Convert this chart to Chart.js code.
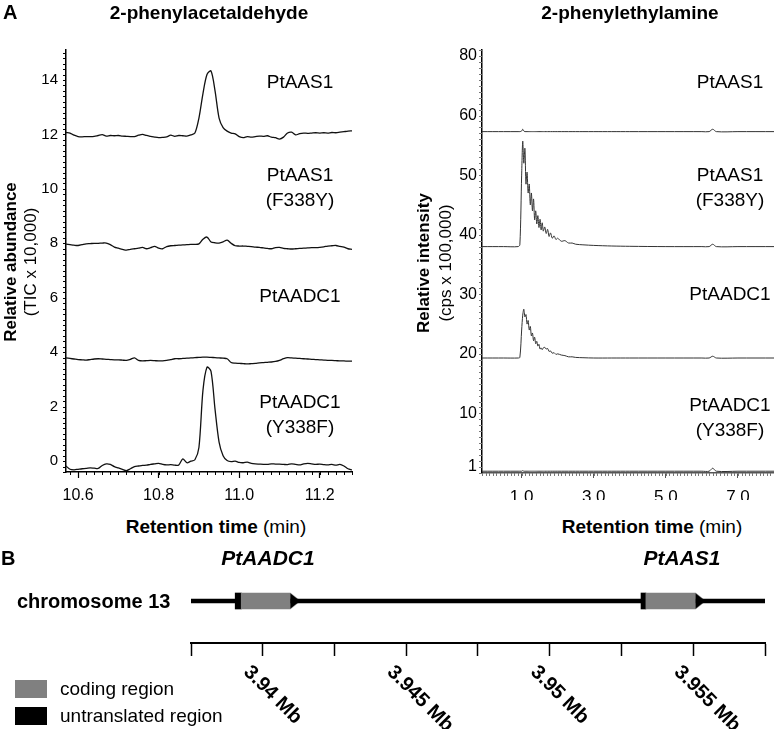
<!DOCTYPE html>
<html>
<head>
<meta charset="utf-8">
<script src="https://cdn.jsdelivr.net/npm/chart.js@4.4.1/dist/chart.umd.min.js"></script>
<style>
  body { margin: 0; width: 774px; height: 729px; position: relative; overflow: hidden; background: #fff;
         font-family: "Liberation Sans", Arial, sans-serif; color: #000; }
  canvas { position: absolute; }
  .c { position: absolute; white-space: nowrap; transform: translate(-50%, -50%); text-align: center; }
  .l { position: absolute; white-space: nowrap; transform: translateY(-50%); }
  .v { position: absolute; white-space: nowrap; transform: translate(-50%, -50%) rotate(-90deg); }
  .trace { font-size: 19px; line-height: 25px; }
  .panel { font-weight: bold; font-size: 20px; }
  .title { font-weight: bold; font-size: 19px; }
  .ytitle { font-size: 17px; }
  .xtitle { font-size: 19px; }
  .gene { font-weight: bold; font-style: italic; font-size: 21px; }
  .legend { font-size: 19px; }
  .swatch { position: absolute; width: 32px; height: 18px; }
</style>
</head>
<body>
<canvas id="leftChart" width="380" height="500" style="left:0;top:0"></canvas>
<canvas id="rightChart" width="394" height="500" style="left:380px;top:0"></canvas>
<canvas id="geneChart" width="774" height="189" style="left:0;top:540px"></canvas>

<div class="l panel" style="left:3px;top:12px">A</div>
<div class="c title" style="left:209px;top:13px">2-phenylacetaldehyde</div>
<div class="c title" style="left:630px;top:13px">2-phenylethylamine</div>

<div class="v ytitle" style="left:11px;top:262px"><b>Relative abundance</b></div>
<div class="v ytitle" style="left:31px;top:262px">(TIC x 10,000)</div>
<div class="v ytitle" style="left:424px;top:263px"><b>Relative intensity</b></div>
<div class="v ytitle" style="left:446px;top:263px">(cps x 100,000)</div>

<div class="c trace" style="left:300px;top:81px">PtAAS1</div>
<div class="c trace" style="left:300px;top:187px">PtAAS1<br>(F338Y)</div>
<div class="c trace" style="left:300px;top:295px">PtAADC1</div>
<div class="c trace" style="left:300px;top:414px">PtAADC1<br>(Y338F)</div>
<div class="c trace" style="left:730px;top:81px">PtAAS1</div>
<div class="c trace" style="left:730px;top:187px">PtAAS1<br>(F338Y)</div>
<div class="c trace" style="left:730px;top:293px">PtAADC1</div>
<div class="c trace" style="left:730px;top:417px">PtAADC1<br>(Y338F)</div>

<div class="c xtitle" style="left:216px;top:527px"><b>Retention time</b> (min)</div>
<div class="c xtitle" style="left:652px;top:527px"><b>Retention time</b> (min)</div>

<div class="l panel" style="left:1px;top:558px">B</div>
<div class="c gene" style="left:268px;top:558px">PtAADC1</div>
<div class="c gene" style="left:682px;top:558px">PtAAS1</div>
<div class="l" style="left:17px;top:601px;font-weight:bold;font-size:20px">chromosome 13</div>

<div class="swatch" style="left:15px;top:680px;background:#808080"></div>
<div class="l legend" style="left:60px;top:689px">coding region</div>
<div class="swatch" style="left:15px;top:707px;background:#000"></div>
<div class="l legend" style="left:60px;top:716px">untranslated region</div>

<script>
// ---- panel A, left: 2-phenylacetaldehyde (GC-MS TIC) ----
const leftTimes = [10.57, 10.58, 10.59, 10.60, 10.61, 10.62, 10.63, 10.64, 10.65, 10.66,
    10.67, 10.68, 10.69, 10.70, 10.71, 10.72, 10.73, 10.74, 10.75, 10.76,
    10.77, 10.78, 10.79, 10.80, 10.81, 10.82, 10.83, 10.84, 10.85, 10.86,
    10.87, 10.88, 10.89, 10.90, 10.91, 10.92, 10.93, 10.94, 10.95, 10.96,
    10.97, 10.98, 10.99, 11.00, 11.01, 11.02, 11.03, 11.04, 11.05, 11.06,
    11.07, 11.08, 11.09, 11.10, 11.11, 11.12, 11.13, 11.14, 11.15, 11.16,
    11.17, 11.18, 11.19, 11.20, 11.21, 11.22, 11.23, 11.24, 11.25, 11.26,
    11.27, 11.28];
const aas1Left = [12.07, 12.05, 11.97, 11.92, 11.91, 11.92, 11.92, 11.93, 11.96, 11.99,
    11.94, 11.96, 11.95, 11.96, 11.94, 11.93, 11.92, 11.92, 11.97, 12.00,
    11.96, 11.93, 11.90, 11.88, 11.89, 11.91, 11.97, 11.93, 11.96, 11.95,
    11.94, 11.98, 12.05, 12.60, 13.50, 14.20, 14.33, 13.60, 12.60, 12.25,
    12.12, 12.05, 12.02, 11.92, 11.88, 11.92, 11.90, 11.92, 11.94, 11.93,
    11.95, 11.90, 11.88, 11.83, 11.90, 12.05, 12.08, 11.98, 12.03, 12.05,
    12.04, 12.05, 12.06, 12.05, 12.06, 12.05, 12.07, 12.06, 12.08, 12.10,
    12.12, 12.13];
const f338yLeft = [7.97, 7.95, 7.93, 7.92, 7.95, 7.98, 7.99, 8.00, 8.00, 8.01,
    8.01, 7.95, 7.86, 7.82, 7.78, 7.75, 7.78, 7.80, 7.82, 7.85,
    7.80, 7.84, 7.89, 7.82, 7.80, 7.88, 7.91, 7.92, 7.93, 7.94,
    7.95, 7.96, 7.96, 7.98, 8.15, 8.23, 8.05, 8.02, 8.01, 8.05,
    8.12, 8.00, 7.91, 7.90, 7.90, 7.89, 7.88, 7.86, 7.85, 7.83,
    7.81, 7.80, 7.84, 7.85, 7.81, 7.80, 7.79, 7.80, 7.81, 7.82,
    7.83, 7.84, 7.84, 7.85, 7.87, 7.90, 7.91, 7.92, 7.89, 7.86,
    7.80, 7.78];
const aadc1Left = [3.79, 3.77, 3.75, 3.73, 3.72, 3.71, 3.73, 3.75, 3.76, 3.75,
    3.74, 3.73, 3.72, 3.72, 3.71, 3.70, 3.74, 3.79, 3.70, 3.68,
    3.69, 3.70, 3.69, 3.68, 3.68, 3.70, 3.73, 3.76, 3.76, 3.77,
    3.78, 3.79, 3.80, 3.81, 3.82, 3.82, 3.81, 3.80, 3.79, 3.78,
    3.76, 3.62, 3.60, 3.59, 3.58, 3.57, 3.58, 3.59, 3.61, 3.62,
    3.63, 3.64, 3.66, 3.70, 3.76, 3.80, 3.79, 3.78, 3.77, 3.76,
    3.75, 3.74, 3.73, 3.72, 3.71, 3.70, 3.70, 3.69, 3.68, 3.68,
    3.67, 3.67];
const y338fLeft = [-0.18, -0.30, -0.32, -0.30, -0.28, -0.27, -0.25, -0.26, -0.27, -0.16,
    -0.10, -0.12, -0.20, -0.25, -0.30, -0.35, -0.28, -0.20, -0.18, -0.16,
    -0.15, -0.12, -0.10, -0.08, -0.12, -0.14, -0.13, -0.15, -0.14, 0.08,
    -0.06, 0.00, 0.05, 0.50, 2.60, 3.45, 3.30, 1.90, 0.70, 0.20,
    0.02, -0.02, 0.00, -0.05, -0.06, -0.04, -0.08, -0.10, -0.11, -0.12,
    -0.12, -0.10, -0.11, -0.11, -0.12, -0.13, -0.10, -0.12, -0.14, -0.10,
    -0.08, -0.10, -0.12, -0.11, -0.13, -0.14, -0.12, -0.15, -0.12, -0.18,
    -0.28, -0.32];
const leftXTicks = [10.6, 10.8, 11.0, 11.2];
const leftYTicks = [0, 2, 4, 6, 8, 10, 12, 14];

// ---- panel A, right: 2-phenylethylamine (LC-MS) ----
const rightTimes = [-0.1, 0.5, 0.9, 0.95, 1.0, 1.03, 1.06, 1.09, 1.12, 1.15,
    1.18, 1.21, 1.24, 1.27, 1.30, 1.33, 1.36, 1.39, 1.42, 1.45,
    1.48, 1.51, 1.54, 1.57, 1.60, 1.64, 1.68, 1.72, 1.76, 1.80,
    1.85, 1.90, 1.95, 2.0, 2.1, 2.2, 2.3, 2.4, 2.5, 2.7,
    3.0, 3.5, 4.0, 5.0, 6.0, 6.2, 6.3, 6.4, 7.0, 8.0];
const aas1Right = [57.3, 57.3, 57.3, 57.3, 57.4, 57.7, 57.4, 57.3, 57.3, 57.3,
    57.3, 57.3, 57.3, 57.3, 57.3, 57.3, 57.3, 57.3, 57.3, 57.3,
    57.3, 57.3, 57.3, 57.3, 57.3, 57.3, 57.3, 57.3, 57.3, 57.3,
    57.3, 57.3, 57.3, 57.3, 57.3, 57.3, 57.3, 57.3, 57.3, 57.3,
    57.3, 57.3, 57.3, 57.3, 57.3, 57.3, 57.7, 57.3, 57.3, 57.3];
const f338yRight = [38.0, 38.0, 38.0, 38.3, 50.0, 55.7, 52.0, 54.5, 48.5, 50.5,
    47.0, 48.5, 45.0, 47.0, 44.0, 46.0, 42.5, 44.0, 41.8, 43.2,
    41.2, 42.6, 40.8, 42.0, 40.6, 41.3, 40.2, 40.9, 39.7, 40.3,
    39.4, 39.8, 39.2, 39.4, 38.9, 39.0, 38.6, 38.6, 38.4, 38.3,
    38.2, 38.1, 38.05, 38.0, 38.0, 38.0, 38.4, 38.0, 38.0, 38.0];
const aadc1Right = [19.3, 19.3, 19.3, 19.4, 24.0, 26.5, 27.5, 26.2, 26.6, 25.0,
    25.6, 24.0, 24.6, 23.0, 23.5, 22.2, 22.8, 21.7, 22.1, 21.3,
    21.6, 20.8, 21.0, 20.7, 21.0, 21.1, 20.8, 20.9, 20.4, 20.5,
    20.1, 20.2, 19.9, 20.0, 19.8, 19.7, 19.5, 19.5, 19.4, 19.35,
    19.3, 19.3, 19.3, 19.3, 19.3, 19.3, 19.6, 19.3, 19.3, 19.3];
const y338fRight = [0.3, 0.3, 0.3, 0.3, 0.3, 0.4, 0.3, 0.3, 0.3, 0.3,
    0.3, 0.3, 0.3, 0.3, 0.3, 0.3, 0.3, 0.3, 0.3, 0.3,
    0.3, 0.3, 0.3, 0.3, 0.3, 0.3, 0.3, 0.3, 0.3, 0.3,
    0.3, 0.3, 0.3, 0.3, 0.3, 0.3, 0.3, 0.3, 0.3, 0.3,
    0.3, 0.3, 0.3, 0.3, 0.3, 0.3, 0.8, 0.3, 0.3, 0.3];
const rightXTicks = [1, 3, 5, 7];
const rightYTicks = [1, 10, 20, 30, 40, 50, 60, 70];
const rightYLabels = ["1", "10", "20", "30", "40", "50", "60", "80"];

// ---- panel B: gene positions on chromosome 13 (Mb) ----
const chromosomeSpan = [3.9375, 3.9575];
const geneNames = ["PtAADC1", "PtAAS1"];
const utrStart = [3.93904, 3.95318];
const codingStart = [3.93925, 3.95335];
const codingEnd = [3.94096, 3.95508];
const rulerTicks = [3.9375, 3.94, 3.9425, 3.945, 3.9475, 3.95, 3.9525, 3.955, 3.9575];
const rulerLabels = [3.94, 3.945, 3.95, 3.955];

Chart.defaults.font.family = "'Liberation Sans', Arial, sans-serif";
Chart.defaults.color = "#000";
Chart.defaults.animation = false;

// small unlabeled ticks along the axes
const minorTicks = {
    id: "minorTicks",
    afterDraw(chart, args, opts) {
        const ctx = chart.ctx;
        ctx.save();
        ctx.strokeStyle = opts.color || "#000";
        ctx.lineWidth = 1;
        ["x", "y"].forEach((id) => {
            const o = opts[id];
            if (!o) return;
            const s = chart.scales[id];
            for (let k = Math.ceil(s.min / o.step - 1e-6); k * o.step <= s.max + 1e-6; k++) {
                const p = Math.round(s.getPixelForValue(k * o.step)) + 0.5;
                ctx.beginPath();
                if (id === "x") {
                    ctx.moveTo(p, s.top);
                    ctx.lineTo(p, s.top + o.len);
                } else {
                    ctx.moveTo(s.right, p);
                    ctx.lineTo(s.right - o.len, p);
                }
                ctx.stroke();
            }
        });
        ctx.restore();
    },
};

function traces(times, series, color, width) {
    return series.map((vals) => ({
        data: times.map((t, i) => ({ x: t, y: vals[i] })),
        borderColor: color,
        borderWidth: width,
        pointRadius: 0,
        tension: 0.3,
    }));
}

new Chart(document.getElementById("leftChart"), {
    type: "line",
    data: { datasets: traces(leftTimes, [aas1Left, f338yLeft, aadc1Left, y338fLeft], "#111", 1.3) },
    plugins: [minorTicks],
    options: {
        responsive: false,
        layout: { padding: { top: 50, right: 28, left: 0, bottom: 0 } },
        plugins: {
            legend: { display: false },
            tooltip: { enabled: false },
            minorTicks: { x: { step: 0.02, len: 3 }, y: { step: 0.2, len: 3 } },
        },
        scales: {
            x: {
                type: "linear",
                min: 10.57,
                max: 11.28,
                afterBuildTicks: (s) => { s.ticks = leftXTicks.map((v) => ({ value: v })); },
                afterFit: (s) => { s.height = 28; },
                grid: { drawOnChartArea: false, tickLength: 6, tickColor: "#000", tickWidth: 1.2 },
                border: { color: "#000", width: 1.5 },
                ticks: { padding: 8, font: { size: 16 }, callback: (v) => v.toFixed(1) },
            },
            y: {
                min: -0.4,
                max: 15.1,
                afterBuildTicks: (s) => { s.ticks = leftYTicks.map((v) => ({ value: v })); },
                afterFit: (s) => { s.width = 66; },
                grid: { drawOnChartArea: false, drawTicks: false },
                border: { color: "#000", width: 1.5 },
                ticks: { padding: 8, font: { size: 15 } },
            },
        },
    },
});

new Chart(document.getElementById("rightChart"), {
    type: "line",
    data: { datasets: traces(rightTimes, [aas1Right, f338yRight, aadc1Right, y338fRight], "#333", 1) },
    plugins: [minorTicks],
    options: {
        responsive: false,
        layout: { padding: { top: 50, right: 0, left: 0, bottom: 0 } },
        plugins: {
            legend: { display: false },
            tooltip: { enabled: false },
            minorTicks: { color: "#777", x: { step: 0.1, len: 3 }, y: { step: 1, len: 3 } },
        },
        scales: {
            x: {
                type: "linear",
                min: -0.1,
                max: 8.0,
                afterBuildTicks: (s) => { s.ticks = rightXTicks.map((v) => ({ value: v })); },
                afterFit: (s) => { s.height = 27; },
                grid: { drawOnChartArea: false, tickLength: 5, tickColor: "#555", tickWidth: 1 },
                border: { color: "#555", width: 1.5 },
                ticks: { padding: 9, font: { size: 17 }, callback: (v) => v.toFixed(1) },
            },
            y: {
                min: 0,
                max: 71,
                afterBuildTicks: (s) => { s.ticks = rightYTicks.map((v) => ({ value: v })); },
                afterFit: (s) => { s.width = 102; },
                grid: { drawOnChartArea: false, drawTicks: false },
                border: { color: "#000", width: 1.5 },
                ticks: { padding: 5, font: { size: 16 }, callback: (v, i) => rightYLabels[i] },
            },
        },
    },
});

// arrowhead shape for the 3' end of each gene
const arrowHead = document.createElement("canvas");
arrowHead.width = 20;
arrowHead.height = 16;
const ah = arrowHead.getContext("2d");
ah.fillStyle = "#000";
ah.beginPath();
ah.moveTo(10, 0);
ah.lineTo(20, 8);
ah.lineTo(10, 16);
ah.closePath();
ah.fill();

// rotated "x Mb" labels under the ruler
const rulerText = {
    id: "rulerText",
    afterDraw(chart) {
        const ctx = chart.ctx;
        const s = chart.scales.x;
        ctx.save();
        ctx.font = "bold 20px 'Liberation Sans', Arial, sans-serif";
        ctx.fillStyle = "#000";
        ctx.textAlign = "left";
        ctx.textBaseline = "middle";
        rulerLabels.forEach((v) => {
            ctx.save();
            ctx.translate(s.getPixelForValue(v) - 16, s.top + 26);
            ctx.rotate(Math.PI / 4);
            ctx.fillText(v + " Mb", 0, 0);
            ctx.restore();
        });
        ctx.restore();
    },
};

const geneSets = [];
geneNames.forEach((name, g) => {
    geneSets.push({ label: name + " UTR", data: [[utrStart[g], codingStart[g]]], backgroundColor: "#000", barThickness: 16, grouped: false, order: 2 });
    geneSets.push({ label: name + " CDS", data: [[codingStart[g], codingEnd[g]]], backgroundColor: "#808080", barThickness: 16, grouped: false, order: 1 });
});

new Chart(document.getElementById("geneChart"), {
    type: "bar",
    data: {
        labels: ["chr13"],
        datasets: [
            { label: "chromosome", data: [chromosomeSpan], backgroundColor: "#000", barThickness: 4, grouped: false, order: 3 },
            ...geneSets,
            {
                type: "scatter",
                label: "arrows",
                data: codingEnd.map((x) => ({ x: x, y: "chr13" })),
                pointStyle: arrowHead,
                pointRadius: 8,
                order: 0,
            },
        ],
    },
    plugins: [rulerText],
    options: {
        responsive: false,
        indexAxis: "y",
        layout: { padding: { top: 19, right: 5, left: 191, bottom: 0 } },
        plugins: { legend: { display: false }, tooltip: { enabled: false } },
        scales: {
            x: {
                type: "linear",
                min: chromosomeSpan[0],
                max: chromosomeSpan[1],
                afterBuildTicks: (s) => { s.ticks = rulerTicks.map((v) => ({ value: v })); },
                afterFit: (s) => { s.height = 86; },
                grid: { drawOnChartArea: false, tickLength: 13, tickColor: "#000", tickWidth: 1.5 },
                border: { color: "#000", width: 2 },
                ticks: { display: false },
            },
            y: { type: "category", labels: ["chr13"], display: false },
        },
    },
});
</script>
</body>
</html>
